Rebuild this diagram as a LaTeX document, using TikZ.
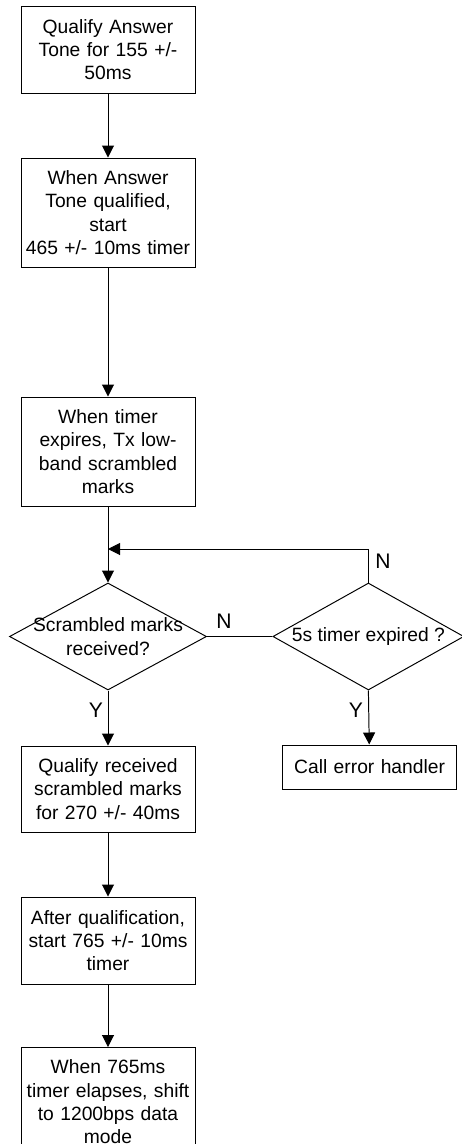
\documentclass[tikz,border=0pt]{standalone}
\usepackage{fontspec}
\setmainfont{Liberation Sans}
\usepackage{tikz}
\usetikzlibrary{arrows.meta,shapes.geometric}

\begin{document}
\begin{tikzpicture}[
    every node/.style={font=\fontsize{13.7}{16.6}\selectfont, align=center},
    box/.style={draw, line width=0.7pt, text width=4.3cm, inner sep=0pt,
        minimum width=4.35cm},
    decision/.style={draw, diamond, line width=0.7pt, inner sep=0pt},
    flow/.style={line width=0.7pt, -{Triangle[length=0.3cm,width=0.3cm]}},
    link/.style={line width=0.7pt}]
    \useasboundingbox (0,0) rectangle (11.55,-28.6);
    \node[box, minimum height=2.175cm] (qualtone) at (2.7,-1.2375)
        {Qualify Answer\\Tone for 155 +/-\\50ms};
    \node[box, minimum height=2.725cm] (starttimer) at (2.7,-5.3125)
        {When Answer\\Tone qualified,\\start\\465 +/- 10ms timer};
    \node[box, minimum height=2.725cm] (txmarks) at (2.7,-11.2875)
        {When timer\\expires, Tx low-\\band scrambled\\marks};
    \node[decision, minimum width=4.925cm, minimum height=2.675cm] (rxmarks) at (2.7,-15.9125) {};
    \node (rxtext) at (rxmarks) {Scrambled marks\\received?};
    \node[decision, minimum width=4.775cm, minimum height=2.675cm] (timeout) at (9.21,-15.9125) {};
    \node (timeouttext) at (timeout) {5s timer expired ?};
    \node[box, minimum height=2.15cm] (qualmarks) at (2.7,-19.725)
        {Qualify received\\scrambled marks\\for 270 +/- 40ms};
    \node[box, minimum height=1.1cm] (errhandler) at (9.24,-19.175)
        {Call error handler};
    \node[box, minimum height=2.175cm] (startdata) at (2.7,-23.5125)
        {After qualification,\\start 765 +/- 10ms\\timer};
    \node[box, minimum height=2.725cm] (datamode) at (2.7,-27.55)
        {When 765ms\\timer elapses, shift\\to 1200bps data\\mode};
    \coordinate (merge) at (2.7,-13.725);
    %%%%%%%%%%%%%%%%%%%%%%%%%%%%%%%%%%
    \draw[flow] (qualtone) -- (starttimer);
    \draw[flow] (starttimer) -- (txmarks);
    \draw[flow] (txmarks) -- (rxmarks.north);
    \draw[flow] (timeout.north) |- (merge); % retour N
    \draw[link] (rxmarks.east) -- (timeout.west); % sortie N
    \draw[flow] (rxmarks.south) -- (qualmarks); % sortie Y
    \draw[flow] (timeout.south) -- (errhandler); % sortie Y
    \draw[flow] (qualmarks) -- (startdata);
    \draw[flow] (startdata) -- (datamode);
    %%%%%%%%%%%%%%%%%%%%%%%%%%%%%%%%%%
    \node[font=\fontsize{15}{16}\selectfont] (nloop) at (9.575,-14.025) {N};
    \node[font=\fontsize{15}{16}\selectfont] (nright) at (5.6,-15.525) {N};
    \node[font=\fontsize{15}{16}\selectfont] (yleft) at (2.4,-17.75) {Y};
    \node[font=\fontsize{15}{16}\selectfont] (yright) at (8.9,-17.75) {Y};
\end{tikzpicture}
\end{document}
